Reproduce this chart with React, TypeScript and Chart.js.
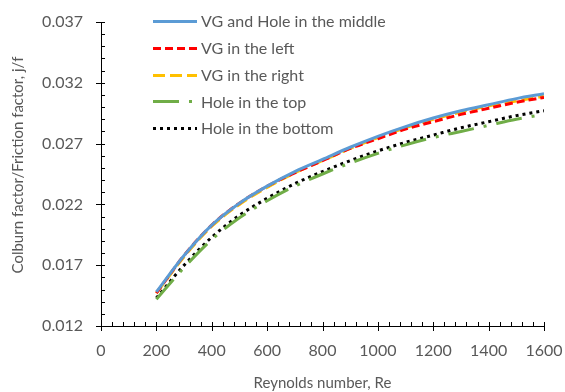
import { useEffect, useRef } from 'react';
import { Chart, registerables } from 'chart.js';

Chart.register(...registerables);

// ---- data ----
const reynolds = [200, 300, 400, 500, 600, 700, 800, 900, 1000, 1100, 1200, 1300, 1400, 1500, 1600];
const vgMiddle = [0.0148, 0.0178, 0.0203, 0.0221, 0.0235, 0.0247, 0.0257, 0.0267, 0.0276, 0.0284, 0.0291, 0.0297, 0.0302, 0.0307, 0.0311];
const vgLeft = [0.0147, 0.0178, 0.0203, 0.0221, 0.0235, 0.0246, 0.0256, 0.0266, 0.0274, 0.0282, 0.0288, 0.0294, 0.0299, 0.0304, 0.0308];
const vgRight = [0.0147, 0.0177, 0.0202, 0.0220, 0.0234, 0.0246, 0.0256, 0.0266, 0.0275, 0.0283, 0.0290, 0.0296, 0.0301, 0.0305, 0.0309];
const holeTop = [0.0142, 0.0168, 0.0191, 0.0209, 0.0223, 0.0235, 0.0245, 0.0254, 0.0262, 0.0269, 0.0275, 0.0280, 0.0285, 0.0290, 0.0294];
const holeBottom = [0.0143, 0.0170, 0.0193, 0.0211, 0.0225, 0.0237, 0.0247, 0.0256, 0.0264, 0.0271, 0.0277, 0.0283, 0.0288, 0.0293, 0.0297];
const seriesLabels = ['VG and Hole in the middle', 'VG in the left', 'VG in the right', 'Hole in the top', 'Hole in the bottom'];
const xTickValues = [0, 200, 400, 600, 800, 1000, 1200, 1400, 1600];
const yTickValues = [0.012, 0.017, 0.022, 0.027, 0.032, 0.037];
const xTitle = 'Reynolds number, Re';
const yTitle = 'Colburn factor/Friction factor, j/f';

const FONT = 'Lato, "Open Sans", sans-serif';
const TEXT = '#595959';

const toPoints = (ys: number[]) => reynolds.map((x, i) => ({ x, y: ys[i] }));

const axisTicksPlugin = {
  id: 'axisTicks',
  afterDraw(chart: any) {
    const { ctx, chartArea } = chart;
    const xs = chart.scales.x;
    const ys = chart.scales.y;
    ctx.save();
    ctx.strokeStyle = '#000';
    ctx.lineWidth = 1;
    ctx.beginPath();
    // x ticks: minor every 40
    for (let i = 0; i <= 40; i++) {
      const v = xs.min + i * 40;
      const px = Math.round(xs.getPixelForValue(v)) + 0.5;
      const major = i % 5 === 0;
      ctx.moveTo(px, chartArea.bottom - 4);
      ctx.lineTo(px, major ? chartArea.bottom + 5 : chartArea.bottom);
    }
    // y ticks: minor every 0.001
    for (let i = 0; i <= 25; i++) {
      const v = ys.min + i * 0.001;
      const py = Math.round(ys.getPixelForValue(v)) + 0.5;
      const major = i % 5 === 0;
      ctx.moveTo(chartArea.left + 4, py);
      ctx.lineTo(major ? chartArea.left - 5 : chartArea.left, py);
    }
    ctx.stroke();
    ctx.restore();
  },
};

const yTitlePlugin = {
  id: 'yTitle',
  afterDraw(chart: any) {
    const { ctx, chartArea } = chart;
    ctx.save();
    ctx.font = `15px ${FONT}`;
    ctx.fillStyle = TEXT;
    ctx.textAlign = 'center';
    ctx.textBaseline = 'middle';
    ctx.translate(18, (chartArea.top + chartArea.bottom) / 2 - 9);
    ctx.rotate(-Math.PI / 2);
    ctx.fillText(yTitle, 0, 0);
    ctx.restore();
  },
};

const legendPlugin = {
  id: 'insideLegend',
  afterDraw(chart: any) {
    const { ctx } = chart;
    const order = [...chart.data.datasets].sort((a: any, b: any) => a.legendIndex - b.legendIndex);
    ctx.save();
    ctx.font = `16px ${FONT}`;
    ctx.textBaseline = 'middle';
    ctx.textAlign = 'left';
    order.forEach((ds: any, i: number) => {
      const y = 21 + i * 26.8;
      ctx.beginPath();
      ctx.strokeStyle = ds.borderColor;
      ctx.lineWidth = ds.borderWidth;
      ctx.setLineDash(ds.borderDash || []);
      ctx.lineCap = 'butt';
      ctx.moveTo(153, Math.round(y) + 0.5);
      ctx.lineTo(197, Math.round(y) + 0.5);
      ctx.stroke();
      ctx.setLineDash([]);
      ctx.fillStyle = TEXT;
      ctx.fillText(ds.label, 201, y + 1);
    });
    ctx.restore();
  },
};

export default function App() {
  const ref = useRef<HTMLCanvasElement | null>(null);

  useEffect(() => {
    if (!ref.current) return;
    const common = { fill: false, pointRadius: 0, borderWidth: 3, cubicInterpolationMode: 'monotone' as const };
    const datasets = [
      { ...common, legendIndex: 0, label: seriesLabels[0], data: toPoints(vgMiddle), borderColor: '#5B9BD5', borderDash: [] },
      { ...common, legendIndex: 1, label: seriesLabels[1], data: toPoints(vgLeft), borderColor: '#FF0000', borderDash: [8, 4] },
      { ...common, legendIndex: 2, label: seriesLabels[2], data: toPoints(vgRight), borderColor: '#FFC000', borderDash: [12, 5] },
      { ...common, legendIndex: 3, label: seriesLabels[3], data: toPoints(holeTop), borderColor: '#70AD47', borderDash: [26, 10, 3, 10] },
      { ...common, legendIndex: 4, label: seriesLabels[4], data: toPoints(holeBottom), borderColor: '#000000', borderDash: [3, 4] },
    ];
    const chart = new Chart(ref.current, {
      type: 'line',
      data: { datasets },
      options: {
        animation: false,
        responsive: false,
        maintainAspectRatio: false,
        layout: { padding: { top: 22, right: 21, left: 0, bottom: 0 } },
        plugins: { legend: { display: false }, tooltip: { enabled: false } },
        scales: {
          x: {
            type: 'linear',
            min: 0,
            max: 1600,
            afterBuildTicks: (s: any) => {
              s.ticks = xTickValues.map((v) => ({ value: v }));
            },
            afterFit: (s: any) => {
              s.height = 66;
              s.paddingLeft = 0;
              s.paddingRight = 0;
            },
            grid: { display: false, drawTicks: false },
            border: { display: true, color: '#000', width: 1 },
            ticks: {
              padding: 15,
              color: TEXT,
              font: { family: FONT, size: 16 },
              maxRotation: 0,
              autoSkip: false,
              callback: (v: any) => String(v),
            },
            title: { display: true, text: xTitle, color: TEXT, font: { family: FONT, size: 15 }, padding: { top: 0, bottom: 0 } },
          },
          y: {
            type: 'linear',
            min: 0.012,
            max: 0.037,
            afterBuildTicks: (s: any) => {
              s.ticks = yTickValues.map((v) => ({ value: v }));
            },
            afterFit: (s: any) => {
              s.width = 101;
              s.paddingTop = 0;
              s.paddingBottom = 0;
            },
            grid: { display: false, drawTicks: false },
            border: { display: true, color: '#000', width: 1 },
            ticks: {
              padding: 18,
              color: TEXT,
              font: { family: FONT, size: 16 },
              autoSkip: false,
              callback: (v: any) => Number(v).toFixed(3),
            },
            title: { display: false, text: yTitle },
          },
        },
      },
      plugins: [axisTicksPlugin, legendPlugin, yTitlePlugin],
    } as any);
    return () => chart.destroy();
  }, []);

  return (
    <div style={{ position: 'absolute', left: 0, top: 0, width: 565, height: 392, background: '#fff' }}>
      <canvas ref={ref} width={565} height={392} style={{ display: 'block', width: 565, height: 392 }} />
    </div>
  );
}
